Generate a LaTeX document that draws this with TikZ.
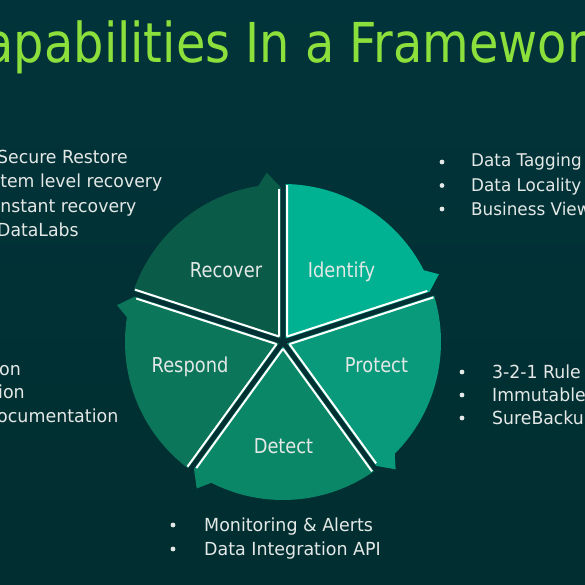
\documentclass[tikz,border=0pt]{standalone}
\usepackage{fontspec}
\usepackage{graphicx}
\setmainfont{DejaVu Sans}
\definecolor{bgtop}{HTML}{01343A}
\definecolor{bgbot}{HTML}{012E30}
\definecolor{titlegreen}{HTML}{8CE03C}
\definecolor{txt}{HTML}{E4E8E6}
\definecolor{cIdentify}{HTML}{00B291}
\definecolor{cProtect}{HTML}{089A7A}
\definecolor{cDetect}{HTML}{0A8767}
\definecolor{cRespond}{HTML}{0B7659}
\definecolor{cRecover}{HTML}{0A5C49}
\newcommand\txs[3]{\fontsize{#1}{#1}\selectfont\scalebox{#2}[1]{#3}}
\tikzset{
  titletext/.style={anchor=base west, inner sep=0pt, text=titlegreen},
  bullettext/.style={anchor=base west, inner sep=0pt, text=txt},
  seglabel/.style={anchor=base, inner sep=0pt, text=txt},
  dot/.style={circle, fill=txt, inner sep=0pt, minimum size=4.8pt},
  edgeline/.style={white, line width=2pt}
}
\begin{document}
\begin{tikzpicture}[x=1pt,y=-1pt]
\useasboundingbox (0,0) rectangle (585,585);
\clip (0,0) rectangle (585,585);
\shade[top color=bgtop, bottom color=bgbot] (0,0) rectangle (585,585);

% title
\node[titletext] (title) at (-49,63) {\txs{55}{0.87}{Capabilities In a Framework}};

% pie
\begin{scope}[shift={(283,342)}, y=1pt]
  \coordinate (ctr) at (0,0);
  \foreach \atwo/\col in {18/cIdentify, -54/cProtect, -126/cDetect, 162/cRespond, 90/cRecover}{
    \pgfmathsetmacro\aone{\atwo+72}
    \pgfmathsetmacro\mid{\atwo+36}
    \pgfmathsetmacro\sA{\aone-0.907}
    \pgfmathsetmacro\eA{\atwo+9}
    \pgfmathsetmacro\tipA{\atwo+5.5}
    \pgfmathsetmacro\endA{\atwo+0.924}
    \fill[\col] (\mid:4.25) -- (\sA:158) arc[start angle=\sA, end angle=\eA, radius=158]
      -- (\tipA:170) -- (\endA:155) -- cycle;
  }
  \foreach \atwo in {18, -54, -126, 162, 90}{
    \pgfmathsetmacro\aone{\atwo+72}
    \pgfmathsetmacro\mid{\atwo+36}
    \pgfmathsetmacro\wA{\aone-1.47}
    \pgfmathsetmacro\wB{\atwo+1.5}
    \draw[edgeline] (\mid:6.8) -- (\wA:157);
    \draw[edgeline] (\mid:6.8) -- (\wB:153);
  }
\end{scope}

% segment labels
\node[seglabel] (recover) at (226,277) {\txs{20.5}{0.87}{Recover}};
\node[seglabel] (identify) at (341.5,277) {\txs{20.5}{0.87}{Identify}};
\node[seglabel] (respond) at (190,372) {\txs{20.5}{0.87}{Respond}};
\node[seglabel] (protect) at (376.5,372) {\txs{20.5}{0.87}{Protect}};
\node[seglabel] (detect) at (283.5,453) {\txs{20.5}{0.87}{Detect}};

% left top list
\node[bullettext] (lt1) at (-3,164) {\txs{18}{0.96}{Secure Restore}};
\node[bullettext] (lt2) at (-5,188) {\txs{18}{0.96}{Item level recovery}};
\node[bullettext] (lt3) at (-5,212) {\txs{18}{0.96}{Instant recovery}};
\node[bullettext] (lt4) at (-3,236) {\txs{18}{0.96}{DataLabs}};

% left lower list
\node[bullettext] (ll1) at (-1,375) {\txs{18}{0.97}{on}};
\node[bullettext] (ll2) at (-2,398.5) {\txs{18}{0.97}{ion}};
\node[bullettext] (ll3) at (-3,422.5) {\txs{18}{0.97}{ocumentation}};

% right top list
\node[dot] (rtb1) at (442,162) {};
\node[dot] (rtb2) at (442,185.5) {};
\node[dot] (rtb3) at (442,209) {};
\node[bullettext] (rt1) at (471,167) {\txs{17.5}{0.96}{Data Tagging}};
\node[bullettext] (rt2) at (471,191) {\txs{17.5}{0.96}{Data Locality}};
\node[bullettext] (rt3) at (471,215) {\txs{17.5}{0.96}{Business View}};

% right lower list
\node[dot] (rlb1) at (462,372) {};
\node[dot] (rlb2) at (462,395) {};
\node[dot] (rlb3) at (462,418) {};
\node[bullettext] (rl1) at (492,378) {\txs{18}{0.96}{3-2-1 Rule}};
\node[bullettext] (rl2) at (492,401) {\txs{18}{0.96}{Immutable}};
\node[bullettext] (rl3) at (492,424) {\txs{18}{0.96}{SureBackup}};

% bottom list
\node[dot] (bb1) at (173,525) {};
\node[dot] (bb2) at (173,549) {};
\node[bullettext] (b1) at (204,531.5) {\txs{18}{0.97}{Monitoring \& Alerts}};
\node[bullettext] (b2) at (204,555) {\txs{18}{0.97}{Data Integration API}};
\end{tikzpicture}
\end{document}
